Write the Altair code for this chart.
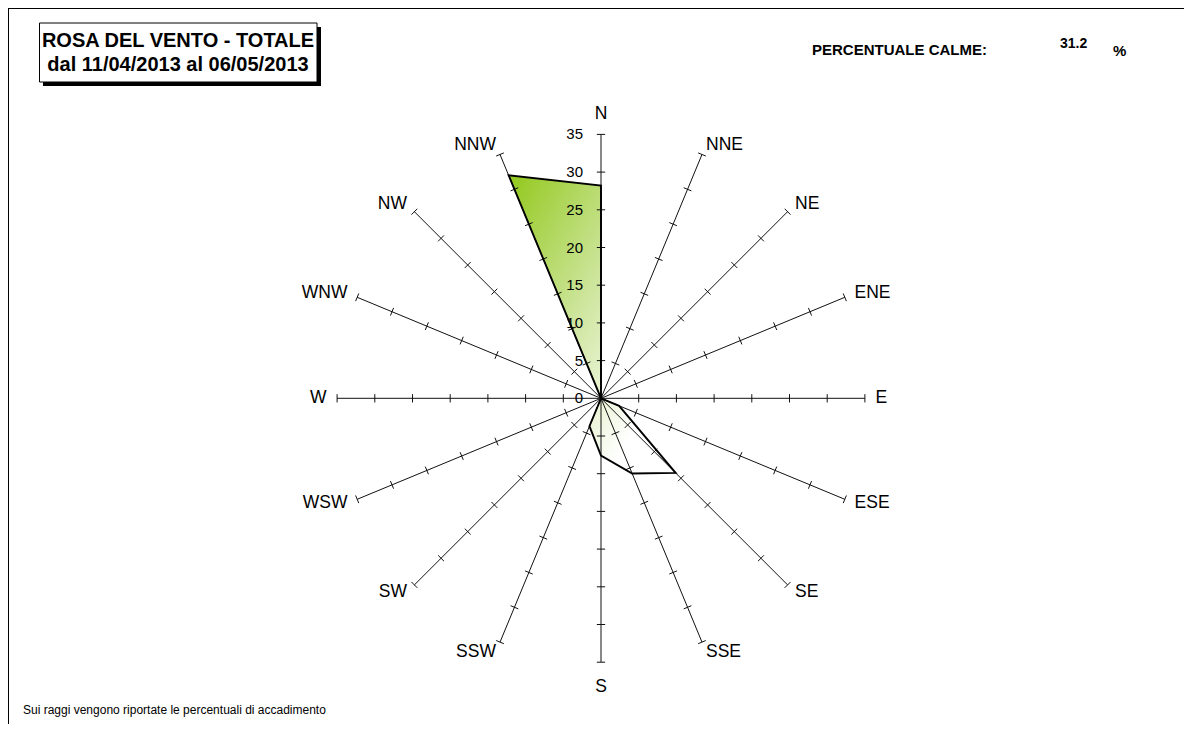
import altair as alt
import pandas as pd

# ---------------- data ----------------
directions = ["N", "NNE", "NE", "ENE", "E", "ESE", "SE", "SSE",
              "S", "SSW", "SW", "WSW", "W", "WNW", "NW", "NNW"]
frequencies = [28.2, 0, 0, 0, 0, 2.6, 14.0, 10.8,
               7.6, 4.0, 0, 0, 0, 0, 0, 32.0]
tick_values = [5, 10, 15, 20, 25, 30, 35]
axis_labels = [0, 5, 10, 15, 20, 25, 30, 35]
r_max = 35

title_lines = ["ROSA DEL VENTO - TOTALE", "dal 11/04/2013 al 06/05/2013"]
calm_label = "PERCENTUALE CALME:"
calm_value = "31.2"
calm_unit = "%"
footnote = "Sui raggi vengono riportate le percentuali di accadimento"

# ---------------- layout ----------------
W, H = 1176, 716
CX, CY, K = 593.0, 390.3, 7.54          # centre (px) and px per unit
FONT = "Liberation Sans"
xs = alt.Scale(domain=[-CX / K, (W - CX) / K], nice=False, zero=False)
ys = alt.Scale(domain=[-(H - CY) / K, CY / K], nice=False, zero=False)

dir_df = pd.DataFrame({"dir": directions, "freq": frequencies,
                       "idx": list(range(len(directions)))})
tick_df = dir_df.merge(pd.DataFrame({"t": tick_values}), how="cross")
lab_df = pd.DataFrame({"v": axis_labels})
one = pd.DataFrame({"k": [0]})

A = "(datum.idx * PI / 8)"

gradient = {
    "gradient": "linear", "x1": 0, "y1": 0, "x2": 1, "y2": 1,
    "stops": [
        {"offset": 0, "color": "#92c81c"},
        {"offset": 0.45, "color": "#cfe6a0"},
        {"offset": 0.8, "color": "#ffffff"},
        {"offset": 1, "color": "#ffffff"},
    ],
}

poly = alt.Chart(dir_df).transform_calculate(
    px=f"datum.freq * sin{A}", py=f"datum.freq * cos{A}"
)
poly_enc = dict(
    x=alt.X("px:Q", scale=xs, axis=None),
    y=alt.Y("py:Q", scale=ys, axis=None),
    order=alt.Order("idx:Q"),
)
fill_layer = poly.mark_line(interpolate="linear-closed", fill=gradient,
                            strokeOpacity=0).encode(**poly_enc)
outline_layer = poly.mark_line(interpolate="linear-closed", color="black",
                               strokeWidth=1.9).encode(**poly_enc)

spokes = alt.Chart(dir_df).transform_calculate(
    x0="0", y0="0",
    x1=f"{r_max} * sin{A}", y1=f"{r_max} * cos{A}",
).mark_rule(color="#111111", strokeWidth=1).encode(
    x=alt.X("x0:Q", scale=xs, axis=None),
    y=alt.Y("y0:Q", scale=ys, axis=None),
    x2="x1:Q", y2="y1:Q",
)

h = 0.55
ticks = alt.Chart(tick_df).transform_calculate(
    tx1=f"datum.t * sin{A} - {h} * cos{A}",
    tx2=f"datum.t * sin{A} + {h} * cos{A}",
    ty1=f"datum.t * cos{A} + {h} * sin{A}",
    ty2=f"datum.t * cos{A} - {h} * sin{A}",
).mark_rule(color="#111111", strokeWidth=1).encode(
    x=alt.X("tx1:Q", scale=xs, axis=None),
    y=alt.Y("ty1:Q", scale=ys, axis=None),
    x2="tx2:Q", y2="ty2:Q",
)

dir_lab = alt.Chart(dir_df).transform_calculate(
    s=f"sin{A}",
    lr=f"abs(sin{A}) < 0.01 ? (cos{A} > 0 ? 37.65 : 38.3) : 36.4",
).transform_calculate(
    lx=f"datum.lr * sin{A}", ly=f"datum.lr * cos{A}",
)
lab_enc = dict(
    x=alt.X("lx:Q", scale=xs, axis=None),
    y=alt.Y("ly:Q", scale=ys, axis=None),
    text="dir:N",
)
lab_right = dir_lab.transform_filter("datum.s > 0.01").mark_text(
    align="left", baseline="middle", font=FONT, fontSize=17.5, color="black"
).encode(**lab_enc)
lab_left = dir_lab.transform_filter("datum.s < -0.01").mark_text(
    align="right", baseline="middle", font=FONT, fontSize=17.5, color="black"
).encode(**lab_enc)
lab_mid = dir_lab.transform_filter("abs(datum.s) <= 0.01").mark_text(
    align="center", baseline="middle", font=FONT, fontSize=17.5, color="black"
).encode(**lab_enc)

num_lab = alt.Chart(lab_df).mark_text(
    align="right", baseline="middle", font=FONT, fontSize=15, color="black"
).encode(
    x=alt.value(CX - 18),
    y=alt.Y("v:Q", scale=ys, axis=None),
    text="v:Q",
)

# frame (left / top edges of the sheet)
frame_left = alt.Chart(one).mark_rule(color="black", strokeWidth=1).encode(
    x=alt.value(0.5), y=alt.value(0), y2=alt.value(H))
frame_top = alt.Chart(one).mark_rule(color="black", strokeWidth=1).encode(
    x=alt.value(0), x2=alt.value(W), y=alt.value(0.5))

# title box with shadow
shadow = alt.Chart(one).mark_rect(color="black").encode(
    x=alt.value(35), x2=alt.value(313), y=alt.value(19), y2=alt.value(78))
box = alt.Chart(one).mark_rect(fill="white", stroke="black", strokeWidth=1).encode(
    x=alt.value(31.5), x2=alt.value(309), y=alt.value(15), y2=alt.value(74))


def txt(s, x, y, size, bold=False, align="left"):
    return alt.Chart(pd.DataFrame({"s": [s]})).mark_text(
        align=align, baseline="alphabetic", font=FONT, fontSize=size,
        fontWeight="bold" if bold else "normal", color="black",
    ).encode(x=alt.value(x), y=alt.value(y), text="s:N")


title1 = txt(title_lines[0], 170, 38.7, 20, True, "center")
title2 = txt(title_lines[1], 170, 63, 20, True, "center")
calm1 = txt(calm_label, 804, 47, 15, True)
calm2 = txt(calm_value, 1052, 40, 14, True)
calm3 = txt(calm_unit, 1105, 48, 15, True)
foot = txt(footnote, 15, 706, 12)

chart = alt.layer(
    frame_left, frame_top,
    fill_layer, spokes, ticks, outline_layer,
    lab_right, lab_left, lab_mid, num_lab,
    shadow, box, title1, title2, calm1, calm2, calm3, foot,
).properties(
    width=W, height=H, padding=0,
    autosize=alt.AutoSizeParams(type="none"),
).configure_view(strokeWidth=0)

chart.save("out.html", embed_options={"renderer": "svg", "actions": False})
